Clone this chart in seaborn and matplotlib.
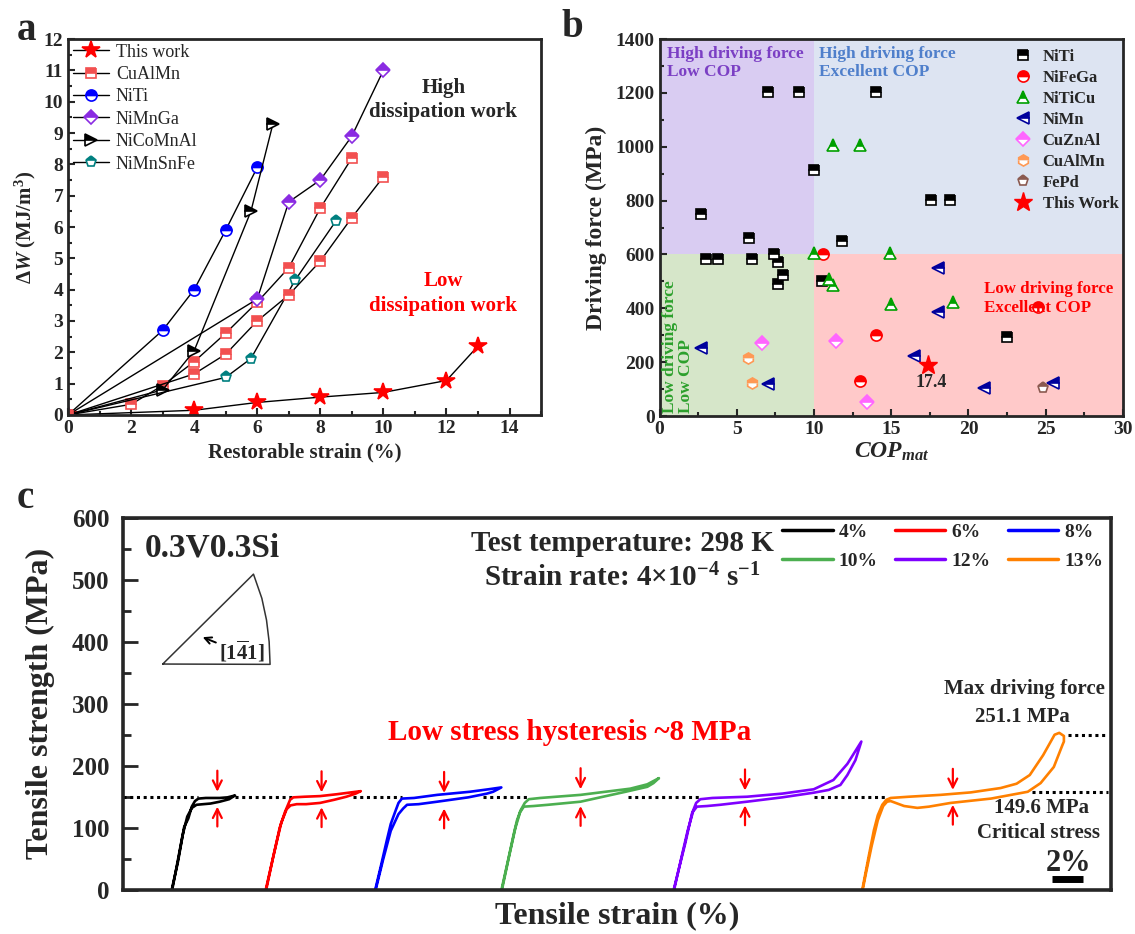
import matplotlib
matplotlib.use("Agg")
import matplotlib.pyplot as plt
from matplotlib.lines import Line2D
from matplotlib.ticker import MultipleLocator
import pandas as pd
import seaborn as sns

# ---------------- panel a : dissipation work vs restorable strain
this_work_x = [0, 4, 6, 8, 10, 12, 13]
this_work_y = [0, 0.15, 0.4, 0.57, 0.72, 1.1, 2.2]
cualmn1_x = [0, 2, 3, 4, 5, 6, 7, 8, 9]
cualmn1_y = [0, 0.34, 0.94, 1.7, 2.61, 3.6, 4.7, 6.6, 8.2]
cualmn2_x = [0, 4, 5, 6, 7, 8, 9, 10]
cualmn2_y = [0, 1.31, 1.94, 3.0, 3.83, 4.91, 6.3, 7.6]
niti_x = [0, 3, 4, 5, 6]
niti_y = [0, 2.7, 4.0, 5.9, 7.9]
nimnga_x = [0, 6, 7, 8, 9, 10]
nimnga_y = [0, 3.7, 6.8, 7.5, 8.9, 11.0]
nicomnal_x = [0, 3, 4, 5.8, 6.5]
nicomnal_y = [0, 0.8, 2.05, 6.5, 9.3]
nimnsnfe_x = [0, 5, 5.8, 7.2, 8.5]
nimnsnfe_y = [0, 1.2, 1.8, 4.3, 6.2]

# ---------------- panel b : driving force vs COP_mat
b_niti_x = [2.7, 3.0, 3.8, 5.8, 6.0, 7.0, 7.4, 7.7, 7.7, 8.0, 9.0, 10.0, 10.5, 11.8, 14.0, 17.6, 18.8, 22.5]
b_niti_y = [752, 582, 582, 662, 582, 1202, 601, 571, 491, 522, 1202, 912, 501, 651, 1202, 802, 802, 292]
b_nifega_x = [10.6, 14.0, 13.0, 24.5]
b_nifega_y = [601, 302, 131, 404]
b_niticu_x = [10.0, 11.2, 13.0, 14.9, 11.0, 11.2, 15.0, 19.0]
b_niticu_y = [604, 1005, 1005, 606, 510, 486, 416, 425]
b_nimn_x = [2.7, 7.0, 16.5, 18.0, 18.0, 21.0, 25.5]
b_nimn_y = [254, 119, 222, 551, 387, 103, 121]
b_cuznal_x = [6.6, 11.4, 13.4]
b_cuznal_y = [272, 277, 52]
b_cualmn_x = [5.7, 6.0]
b_cualmn_y = [217, 124]
b_fepd_x = [24.8]
b_fepd_y = [103]
b_this_x = [17.4]
b_this_y = [191]

# ---------------- panel c : cyclic tensile curves (strain %, stress MPa)
curve_labels = ["4%", "6%", "8%", "10%", "12%", "13%"]
curve_offsets = [3.14, 9.2, 16.26, 24.4, 35.5, 47.66]
c4_strain = [0, 0.4, 0.8, 1.07, 1.29, 1.5, 1.72, 2.2, 3.1, 3.6, 4.08,
             3.7, 3.1, 2.5, 2.04, 1.6, 1.3, 1.0, 0.7, 0.3, 0.03]
c4_stress = [0, 45, 101, 115, 134, 143, 147, 148, 148, 149, 152,
             146, 142, 139, 138, 137, 132, 118, 88, 35, 0]
c6_strain = [0, 0.5, 0.9, 1.25, 1.57, 1.78, 2.5, 3.5, 4.58, 5.5, 6.13,
             5.8, 5.2, 4.4, 3.5, 2.6, 2.0, 1.6, 1.35, 1.0, 0.5, 0.03]
c6_stress = [0, 55, 100, 126, 145, 149, 150, 151, 154, 157, 159,
             155, 150, 145, 140, 138, 138, 136, 130, 108, 55, 0]
c8_strain = [0, 0.4, 0.75, 1.0, 1.29, 1.5, 1.72, 2.5, 4.0, 6.1, 7.3, 8.13,
             7.6, 7.2, 6.0, 4.0, 2.8, 2.05, 1.8, 1.5, 1.0, 0.5, 0.03]
c8_stress = [0, 42, 80, 106, 126, 140, 147, 148, 153, 158, 162, 165,
             158, 155, 149, 142, 138, 137, 131, 122, 95, 48, 0]
c10_strain = [0, 0.4, 0.8, 1.0, 1.23, 1.5, 1.76, 2.5, 5.1, 8.3, 9.4, 10.15,
              9.8, 9.4, 8.0, 5.1, 3.0, 2.07, 1.44, 1.2, 0.9, 0.5, 0.03]
c10_stress = [0, 45, 91, 112, 128, 140, 146, 148, 153, 163, 170, 180,
              172, 166, 158, 142, 137, 135, 134, 125, 100, 55, 0]
c12_strain = [0, 0.4, 0.75, 1.0, 1.18, 1.45, 1.72, 2.5, 4.73, 7.0, 9.03, 10.3, 11.2, 12.1,
              11.72, 11.2, 10.75, 10.0, 9.03, 7.0, 4.73, 3.0, 2.15, 1.5, 1.25, 0.9, 0.5, 0.03]
c12_stress = [0, 40, 75, 103, 123, 140, 146, 148, 150, 155, 162, 177, 203, 239,
              209, 185, 169, 161, 156.5, 149, 142, 137, 135, 134, 126, 95, 52, 0]
c13_strain = [0, 0.4, 0.75, 1.0, 1.29, 1.55, 1.83, 3.0, 5.05, 7.0, 8.92, 9.95, 10.8, 11.66, 12.4, 12.7, 13.0,
              13.0, 12.9, 12.35, 11.5, 10.67, 8.3, 5.7, 4.3, 3.55, 2.7, 1.83, 1.6, 1.35, 1.0, 0.6, 0.25, 0.03]
c13_stress = [0, 52, 96, 120, 137, 145, 148, 150, 153, 157, 164, 171, 185, 217, 250, 253, 248,
              239, 233, 198, 172, 158, 147, 140, 134, 132, 135, 143, 142, 135, 112, 70, 28, 0]
curve_strain = [c4_strain, c6_strain, c8_strain, c10_strain, c12_strain, c13_strain]
curve_stress = [c4_stress, c6_stress, c8_stress, c10_stress, c12_stress, c13_stress]
curve_colors = ["black", "#FF0000", "#0000FF", "#4CAF50", "#7F00FF", "#FF8000"]

# dotted reference lines (149.6 MPa critical stress, 251.1 MPa max driving force)
crit_start = [0, 7.23, 14.84, 23.23, 32.53, 44.53, 58.6]
crit_end = [4.84, 10.88, 17.98, 26.13, 37.23, 49.23, 63.5]
crit_level = [149.6, 149.6, 149.6, 149.6, 149.6, 149.6, 157]
max_start, max_end, max_level = 60.9, 63.5, 250

# hysteresis arrows
arrow_x = [6.08, 12.8, 20.7, 29.5, 40.1, 53.5]
arrow_top = [158, 157, 156, 162, 160, 161]
arrow_bottom = [134, 133, 131, 135, 136, 137]

sns.set_style("ticks")
plt.rcParams["font.family"] = ["Liberation Serif", "DejaVu Serif"]
plt.rcParams["font.weight"] = "bold"
plt.rcParams["axes.labelweight"] = "bold"
plt.rcParams["mathtext.fontset"] = "custom"
plt.rcParams["mathtext.rm"] = "Liberation Serif:bold"
plt.rcParams["mathtext.it"] = "Liberation Serif:italic:bold"
plt.rcParams["mathtext.bf"] = "Liberation Serif:bold"

fig = plt.figure(figsize=(11.35, 9.34), dpi=100)
ax_a = fig.add_axes([0.0599, 0.5557, 0.4168, 0.4025])
ax_b = fig.add_axes([0.5811, 0.5546, 0.4083, 0.4036])
ax_c = fig.add_axes([0.1084, 0.0474, 0.8705, 0.3983])


def bold_ticks(ax):
    for lab in ax.get_xticklabels() + ax.get_yticklabels():
        lab.set_fontweight("bold")


# ---- panel a
series_a = [
    ("This work", this_work_x, this_work_y, "*", "#FF0000", 13, "full"),
    ("CuAlMn", cualmn1_x, cualmn1_y, "s", "#F25050", 7, "top"),
    ("NiTi", niti_x, niti_y, "o", "#0000FF", 8, "top"),
    ("NiMnGa", nimnga_x, nimnga_y, "D", "#8A2BE2", 7, "top"),
    ("NiCoMnAl", nicomnal_x, nicomnal_y, ">", "black", 8, "top"),
    ("NiMnSnFe", nimnsnfe_x, nimnsnfe_y, "p", "#008080", 8, "top"),
]
for lab, xs, ys, mk, col, ms, fs in series_a:
    ax_a.plot(xs, ys, color="black", lw=1, marker=mk, ms=ms, mfc=col, mec=col,
              fillstyle=fs, markerfacecoloralt="white", mew=1.2, label=lab)
ax_a.plot(cualmn2_x, cualmn2_y, color="black", lw=1, marker="s", ms=7, mfc="#F25050",
          mec="#F25050", fillstyle="top", markerfacecoloralt="white", mew=1.2)
ax_a.set_xlim(0, 15)
ax_a.set_ylim(0, 12)
ax_a.xaxis.set_major_locator(MultipleLocator(2))
ax_a.xaxis.set_minor_locator(MultipleLocator(1))
ax_a.yaxis.set_major_locator(MultipleLocator(1))
ax_a.yaxis.set_minor_locator(MultipleLocator(0.5))
ax_a.tick_params(which="both", direction="in", width=1.5, labelsize=14)
ax_a.tick_params(which="major", length=5)
ax_a.tick_params(which="minor", length=3)
bold_ticks(ax_a)
for s in ax_a.spines.values():
    s.set_linewidth(2)
ax_a.set_xlabel("Restorable strain (%)", fontsize=15, labelpad=4)
ax_a.set_ylabel(r"$\Delta \mathit{W}$ (MJ/m$^{3}$)", fontsize=15, labelpad=4)
ax_a.legend(loc="upper left", frameon=False, handlelength=2.0, handletextpad=0.4,
            labelspacing=0.3, borderaxespad=0.1, borderpad=0.15,
            prop={"weight": "normal", "size": 13})
ax_a.text(11.9, 10.05, "High\ndissipation work", ha="center", va="center",
          fontsize=15, fontweight="bold", linespacing=1.3)
ax_a.text(11.9, 3.87, "Low\ndissipation work", ha="center", va="center",
          fontsize=15, fontweight="bold", color="#FF0000", linespacing=1.3)

# ---- panel b
ax_b.axvspan(0, 10, ymin=600 / 1400, ymax=1, color="#D9CCF2", lw=0, zorder=0)
ax_b.axvspan(10, 30, ymin=600 / 1400, ymax=1, color="#DDE4F2", lw=0, zorder=0)
ax_b.axvspan(0, 10, ymin=0, ymax=600 / 1400, color="#D6E6C9", lw=0, zorder=0)
ax_b.axvspan(10, 30, ymin=0, ymax=600 / 1400, color="#FFC9C9", lw=0, zorder=0)
series_b = [
    ("NiTi", b_niti_x, b_niti_y, "s", "black", 7),
    ("NiFeGa", b_nifega_x, b_nifega_y, "o", "#FF0000", 8),
    ("NiTiCu", b_niticu_x, b_niticu_y, "^", "#00A000", 8),
    ("NiMn", b_nimn_x, b_nimn_y, "<", "#00009C", 8),
    ("CuZnAl", b_cuznal_x, b_cuznal_y, "D", "#FF66FF", 7),
    ("CuAlMn", b_cualmn_x, b_cualmn_y, "h", "#FF9955", 8),
    ("FePd", b_fepd_x, b_fepd_y, "p", "#8B5A50", 8),
]
for lab, xs, ys, mk, col, ms in series_b:
    ax_b.plot(xs, ys, ls="none", marker=mk, ms=ms, mfc=col, mec=col, fillstyle="top",
              markerfacecoloralt="white", mew=1.2, label=lab)
ax_b.plot(b_this_x, b_this_y, ls="none", marker="*", ms=14, color="#FF0000", label="This Work")
ax_b.text(17.6, 125, "17.4", ha="center", va="center", fontsize=13, fontweight="bold")
ax_b.set_xlim(0, 30)
ax_b.set_ylim(0, 1400)
ax_b.xaxis.set_major_locator(MultipleLocator(5))
ax_b.xaxis.set_minor_locator(MultipleLocator(2.5))
ax_b.yaxis.set_major_locator(MultipleLocator(200))
ax_b.yaxis.set_minor_locator(MultipleLocator(100))
ax_b.tick_params(which="both", direction="in", width=1.5, labelsize=14)
ax_b.tick_params(which="major", length=5)
ax_b.tick_params(which="minor", length=3)
bold_ticks(ax_b)
for s in ax_b.spines.values():
    s.set_linewidth(2)
ax_b.set_xlabel(r"$\mathit{COP}_{\mathit{mat}}$", fontsize=17, labelpad=2)
ax_b.set_ylabel("Driving force (MPa)", fontsize=17, labelpad=6)
ax_b.legend(loc="upper right", bbox_to_anchor=(1.012, 1.0), frameon=False, fontsize=12,
            handlelength=1.2, handletextpad=0.6, labelspacing=0.3, borderaxespad=0.2)
ax_b.text(0.5, 1375, "High driving force\nLow COP", ha="left", va="top", fontsize=12.5,
          fontweight="bold", color="#7B3FC4", linespacing=1.2)
ax_b.text(10.3, 1375, "High driving force\nExcellent COP", ha="left", va="top", fontsize=12.5,
          fontweight="bold", color="#4F7FCB", linespacing=1.2)
ax_b.text(21.0, 500, "Low driving force\nExcellent COP", ha="left", va="top", fontsize=12.2,
          fontweight="bold", color="#FF0000", linespacing=1.2)
ax_b.text(0.15, 12, "Low driving force\nLow COP", ha="left", va="bottom", rotation=90,
          fontsize=12.5, fontweight="bold", color="#2CA02C", linespacing=1.0)

# ---- panel c
for lab, off, xs, ys, col in zip(curve_labels, curve_offsets, curve_strain, curve_stress, curve_colors):
    df = pd.DataFrame({"strain": [off + v for v in xs], "stress": ys})
    sns.lineplot(data=df, x="strain", y="stress", sort=False, estimator=None,
                 color=col, lw=1.9, ax=ax_c)
for x0, x1, lv in zip(crit_start, crit_end, crit_level):
    ax_c.plot([x0, x1], [lv, lv], color="black", ls=(0, (1, 1.2)), lw=2.2, zorder=1)
ax_c.plot([max_start, max_end], [max_level, max_level], color="black", ls=(0, (1, 1.2)), lw=2.2)
arrow_style = dict(arrowstyle="->", color="#FF0000", lw=1.6, mutation_scale=16,
                   shrinkA=0, shrinkB=0)
for ax_x, top, bot in zip(arrow_x, arrow_top, arrow_bottom):
    ax_c.annotate("", xy=(ax_x, top), xytext=(ax_x, top + 34), arrowprops=arrow_style)
    ax_c.annotate("", xy=(ax_x, bot), xytext=(ax_x, bot - 32), arrowprops=arrow_style)

ax_c.set_xlim(0, 63.7)
ax_c.set_ylim(0, 600)
ax_c.set_xticks([])
ax_c.yaxis.set_major_locator(MultipleLocator(100))
ax_c.yaxis.set_minor_locator(MultipleLocator(50))
ax_c.tick_params(which="both", direction="in", width=2, labelsize=18, pad=10)
ax_c.tick_params(which="major", length=11)
ax_c.tick_params(which="minor", length=6)
bold_ticks(ax_c)
for s in ax_c.spines.values():
    s.set_linewidth(2.6)
ax_c.set_xlabel("Tensile strain (%)", fontsize=23, labelpad=8)
ax_c.set_ylabel("Tensile strength (MPa)", fontsize=23, labelpad=12)

handles = [Line2D([], [], color=c, lw=2.5) for c in curve_colors]
order = [0, 3, 1, 4, 2, 5]
ax_c.legend([handles[i] for i in order], [curve_labels[i] for i in order], ncol=3,
            loc="upper right", bbox_to_anchor=(1.0, 1.005), frameon=False, fontsize=14,
            handlelength=2.6, handletextpad=0.3, columnspacing=0.9, labelspacing=0.55,
            borderaxespad=0.2, borderpad=0.2)

ax_c.text(1.4, 551, "0.3V0.3Si", ha="left", va="center", fontsize=24, fontweight="bold")
ax_c.text(32.2, 558, "Test temperature: 298 K", ha="center", va="center", fontsize=21, fontweight="bold")
ax_c.text(32.2, 502, r"Strain rate: 4$\times$10$^{-4}$ s$^{-1}$", ha="center", va="center",
          fontsize=21, fontweight="bold")
ax_c.text(28.8, 253, "Low stress hysteresis ~8 MPa", ha="center", va="center",
          fontsize=21, fontweight="bold", color="#FF0000")
ax_c.text(58.1, 324, "Max driving force", ha="center", va="center", fontsize=15, fontweight="bold")
ax_c.text(58.0, 279, "251.1 MPa", ha="center", va="center", fontsize=15, fontweight="bold")
ax_c.text(59.2, 132, "149.6 MPa", ha="center", va="center", fontsize=15, fontweight="bold")
ax_c.text(59.0, 91, "Critical stress", ha="center", va="center", fontsize=15, fontweight="bold")
ax_c.text(60.95, 42, "2%", ha="center", va="center", fontsize=22, fontweight="bold")
ax_c.plot([59.9, 61.9], [18, 18], color="black", lw=5, solid_capstyle="butt")

# stereographic triangle inset
tri_x = [2.56, 8.41, 8.95, 9.25, 9.42, 9.48, 2.56]
tri_y = [364, 509, 470, 435, 400, 363.5, 364]
ax_c.plot(tri_x, tri_y, color="#333333", lw=1.1)
ax_c.annotate("", xy=(4.97, 409), xytext=(6.15, 397),
              arrowprops=dict(arrowstyle="->", color="black", lw=1.4, mutation_scale=12))
ax_c.text(6.2, 384, r"[1$\overline{4}$1]", ha="left", va="center", fontsize=15, fontweight="bold")

fig.text(0.023, 0.967, "a", ha="center", va="center", fontsize=28, fontweight="bold")
fig.text(0.504, 0.971, "b", ha="center", va="center", fontsize=28, fontweight="bold")
fig.text(0.022, 0.466, "c", ha="center", va="center", fontsize=28, fontweight="bold")

fig.savefig("out.png", dpi=100)
